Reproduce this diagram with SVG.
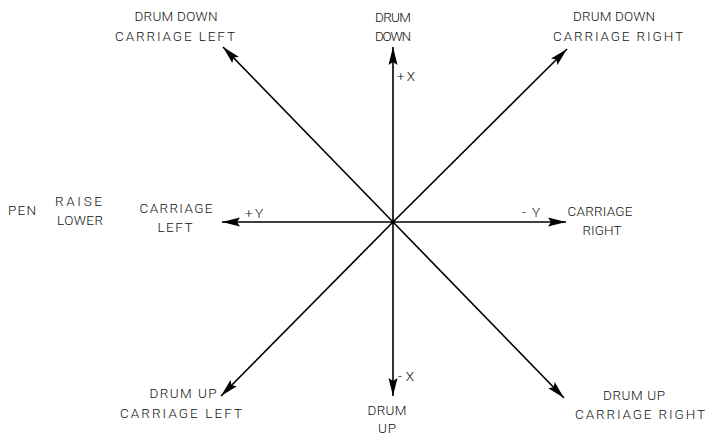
<svg xmlns="http://www.w3.org/2000/svg" width="711" height="435" viewBox="0 0 711 435">
<defs>
<marker id="ah" markerUnits="userSpaceOnUse" markerWidth="19" markerHeight="11" refX="18" refY="5.5" orient="auto">
<path d="M0,1 L18,5.5 L0,10 L3,5.5 Z" fill="#000"/>
</marker>
<style>
text{font-family:Roboto,"Liberation Sans",Arial,sans-serif;font-weight:300;font-size:13.5px;fill:#111;}
.c{text-anchor:middle;}
.ax{stroke:#000;stroke-width:1.6;fill:none;marker-end:url(#ah);}
</style>
</defs>
<rect width="711" height="435" fill="#fff"/>
<g id="connectors">
<line class="ax" x1="393" y1="222" x2="393" y2="47"/>
<line class="ax" x1="393" y1="222" x2="393" y2="396"/>
<line class="ax" x1="393" y1="222" x2="222" y2="222"/>
<line class="ax" x1="393" y1="222" x2="566" y2="222"/>
<line class="ax" x1="393" y1="222" x2="223" y2="47"/>
<line class="ax" x1="393" y1="222" x2="567" y2="49"/>
<line class="ax" x1="393" y1="222" x2="221" y2="396"/>
<line class="ax" x1="393" y1="222" x2="564" y2="398"/>
<circle cx="393" cy="222" r="2" fill="#000"/>
</g>
<g id="axis-labels">
<text x="397" y="81" textLength="18" lengthAdjust="spacing">+X</text>
<text x="398" y="381" textLength="16" lengthAdjust="spacing">-X</text>
<text x="245" y="218" textLength="18" lengthAdjust="spacing">+Y</text>
<text x="522" y="217" textLength="18" lengthAdjust="spacing">-Y</text>
</g>
<g id="n-drum-down">
<text class="c" x="393" y="22" textLength="36" lengthAdjust="spacing">DRUM</text>
<text class="c" x="393" y="41" textLength="36" lengthAdjust="spacing">DOWN</text>
</g>
<g id="n-drum-down-left">
<text class="c" x="176" y="21" textLength="83" lengthAdjust="spacing">DRUM DOWN</text>
<text class="c" x="175" y="41" textLength="120" lengthAdjust="spacing">CARRIAGE LEFT</text>
</g>
<g id="n-drum-down-right">
<text class="c" x="614" y="21" textLength="82" lengthAdjust="spacing">DRUM DOWN</text>
<text class="c" x="618" y="41" textLength="130" lengthAdjust="spacing">CARRIAGE RIGHT</text>
</g>
<g id="n-carriage-left">
<text class="c" x="176" y="213" textLength="73" lengthAdjust="spacing">CARRIAGE</text>
<text class="c" x="175" y="232" textLength="35" lengthAdjust="spacing">LEFT</text>
</g>
<g id="n-carriage-right">
<text class="c" x="600" y="216" textLength="65" lengthAdjust="spacing">CARRIAGE</text>
<text class="c" x="602" y="235" textLength="39" lengthAdjust="spacing">RIGHT</text>
</g>
<g id="n-pen">
<text x="8" y="215" textLength="28" lengthAdjust="spacing">PEN</text>
<text x="55" y="206" textLength="47" lengthAdjust="spacing">RAISE</text>
<text x="57" y="225" textLength="46" lengthAdjust="spacing">LOWER</text>
</g>
<g id="n-drum-up">
<text class="c" x="387" y="415" textLength="39" lengthAdjust="spacing">DRUM</text>
<text class="c" x="387" y="433" textLength="18" lengthAdjust="spacing">UP</text>
</g>
<g id="n-drum-up-left">
<text class="c" x="183" y="398" textLength="67" lengthAdjust="spacing">DRUM UP</text>
<text class="c" x="181" y="418" textLength="122" lengthAdjust="spacing">CARRIAGE LEFT</text>
</g>
<g id="n-drum-up-right">
<text class="c" x="634" y="400" textLength="62" lengthAdjust="spacing">DRUM UP</text>
<text class="c" x="640" y="419" textLength="130" lengthAdjust="spacing">CARRIAGE RIGHT</text>
</g>
</svg>
